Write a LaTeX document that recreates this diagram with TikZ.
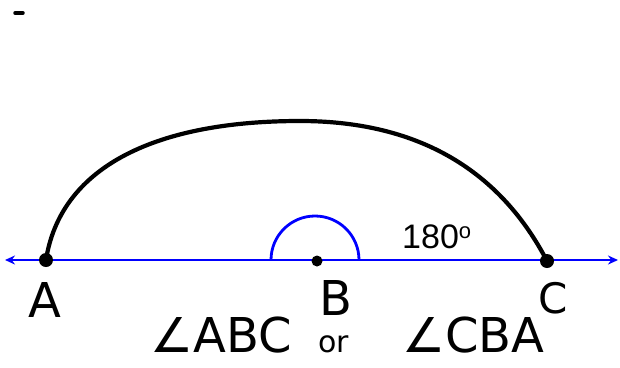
\documentclass[tikz,border=0pt]{standalone}
\usepackage{fontspec}
\setmainfont{DejaVu Sans}
\newfontfamily\numfont{Liberation Sans}
\usetikzlibrary{arrows.meta}
\tikzset{
  ray/.style={blue, line width=2.6pt, {Stealth[length=10pt,width=9pt]}-{Stealth[length=10pt,width=9pt]}},
  arcline/.style={black, line width=4.2pt, line cap=round},
  anglemark/.style={blue, line width=2.8pt},
  ptdot/.style={circle, fill=black, inner sep=0pt, minimum size=14pt},
  hand/.style={font=\fontsize{48}{52}\selectfont, inner sep=0pt},
  handsmall/.style={font=\fontsize{42}{46}\selectfont, inner sep=0pt},
}
\begin{document}
\begin{tikzpicture}[x=1pt,y=-1pt]
\useasboundingbox (0,0) rectangle (620,367);
\draw[line width=3.5pt, line cap=round] (15,13) -- (23,13);
\coordinate (L) at (5,260);
\coordinate (R) at (618,260);
\draw[ray] (L) -- (R);
\node[ptdot] (A) at (46,260) {};
\node[ptdot, minimum size=11pt] (B) at (317,261) {};
\node[ptdot] (C) at (547,261) {};
\draw[arcline] (A.center) .. controls (60,170) and (150,121) .. (300,121) .. controls (440,121) and (510,190) .. (C.center);
\draw[anglemark] (271,260) arc[start angle=180, end angle=360, radius=44];
\node[font=\numfont\fontsize{34}{36}\selectfont, anchor=base west, inner sep=0pt] (deg) at (402,248) {180\raisebox{10pt}{\fontsize{22}{24}\selectfont o}};
\node[hand] (la) at (45,300) {A};
\node[hand] (lb) at (336,298) {B};
\node[handsmall] (lc) at (553,298) {C};
\node[hand, anchor=base west] (n1) at (150,352) {∠ABC};
\node[font=\fontsize{30}{32}\selectfont, inner sep=0pt, anchor=base west] (n2) at (318,352) {or};
\node[hand, anchor=base west] (n3) at (402,352) {∠CBA};
\end{tikzpicture}
\end{document}
